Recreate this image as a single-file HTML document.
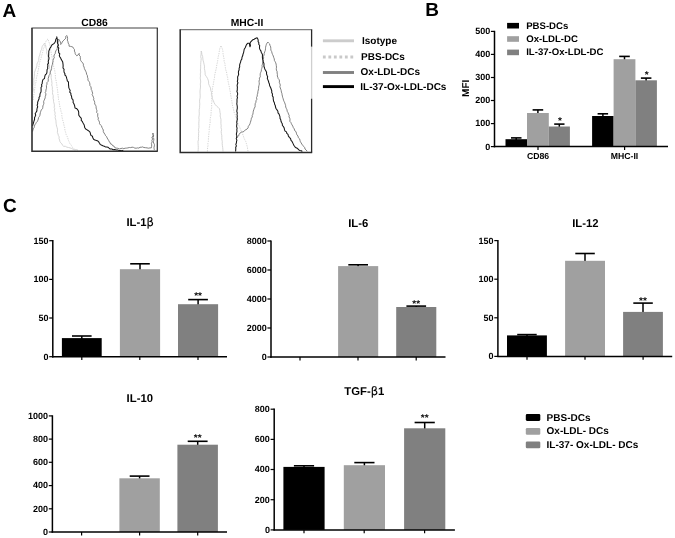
<!DOCTYPE html>
<html><head><meta charset="utf-8"><title>Figure</title>
<style>html,body{margin:0;padding:0;background:#fff}svg{display:block;will-change:transform}text{font-family:'Liberation Sans', sans-serif;fill:#000;text-rendering:geometricPrecision}</style></head><body>
<svg width="675" height="538" viewBox="0 0 675 538">
<rect width="675" height="538" fill="#fff"/>
<text x="2.4" y="17.0" font-size="19" font-weight="bold" text-anchor="start">A</text>
<text x="425.2" y="16.0" font-size="19" font-weight="bold" text-anchor="start">B</text>
<text x="3.0" y="212.2" font-size="19" font-weight="bold" text-anchor="start">C</text>
<text x="94.5" y="25.6" font-size="10.3" font-weight="bold" text-anchor="middle">CD86</text>
<polyline points="32.6,92.0 33.1,90.7 33.3,89.3 33.0,87.9 32.8,86.4 32.9,85.0 33.8,83.6 33.8,82.2 33.9,80.8 33.7,79.3 34.1,77.9 34.3,76.5 34.4,75.0 34.5,73.6 34.5,72.2 35.1,70.9 35.4,69.5 36.1,68.2 36.6,66.9 36.9,65.6 36.9,64.1 37.5,62.9 38.1,61.7 38.7,60.5 38.8,59.1 38.9,57.6 39.2,56.3 39.9,55.0 40.0,53.5 40.5,52.2 40.8,50.7 41.7,49.3 41.9,47.7 42.3,46.2 43.4,44.8 44.4,43.3 45.1,44.6 45.8,45.9 45.9,47.4 46.3,48.8 46.8,50.1 46.7,51.6 46.6,53.1 47.2,54.4 47.6,55.8 48.2,57.3 47.9,59.0 48.2,60.6 48.6,62.2 48.7,63.8 49.4,65.3 49.4,66.9 49.7,68.4 50.3,69.9 50.0,71.5 50.3,73.0 51.2,74.4 51.2,76.0 51.1,77.5 51.3,79.0 51.7,80.5 51.8,82.0 52.0,83.5 51.7,85.0 52.2,86.5 52.4,88.0 52.3,89.5 52.8,91.0 52.5,92.5 52.6,94.0 53.2,95.5 53.2,97.0 53.1,98.5 53.6,100.0 53.5,101.5 53.9,102.9 54.3,104.4 54.4,105.9 54.2,107.4 54.8,108.8 54.3,110.4 54.8,111.8 55.2,113.2 54.8,114.7 55.5,116.1 55.1,117.6 55.5,119.0 55.9,120.4 56.0,121.8 56.1,123.3 56.3,124.7 56.6,126.1 57.1,127.7 57.5,129.2 57.5,130.9 57.4,132.5 58.0,134.0 58.4,135.6 59.2,136.9 59.0,138.6 59.6,140.0 59.9,141.5 60.7,142.8 61.9,143.8 62.5,145.3 63.7,146.3 65.4,146.3 66.9,147.2 68.5,147.5 70.1,147.9 71.7,148.5 73.2,149.3 74.7,149.9 76.5,149.6 78.0,150.2" fill="none" stroke="#cccccc" stroke-width="0.8" stroke-linejoin="round"/>
<polyline points="33.2,100.0 33.3,98.0 33.7,96.0 33.9,94.0 34.3,92.0 34.5,90.0 34.9,88.0 34.9,86.0 35.2,84.0 36.1,82.0 36.1,80.0 36.4,78.0 36.9,76.0 37.6,74.0 37.7,71.9 38.4,69.9 38.6,67.8 39.1,65.8 39.3,63.7 39.9,61.7 40.5,59.9 41.1,58.2 41.4,56.4 42.0,54.6 42.5,52.8 42.9,51.0 43.3,49.0 44.2,47.2 44.8,45.3 45.2,43.4 45.9,41.5 46.7,40.0 48.0,38.9 48.5,41.0 49.3,43.0 50.0,45.0 50.2,47.2 50.5,49.4 51.0,51.5 51.2,53.7 51.8,55.8 52.2,57.7 52.3,59.6 52.9,61.5 53.0,63.4 53.6,65.3 53.7,67.5 54.6,69.5 54.9,71.7 55.2,73.8 55.4,76.0 55.4,78.0 56.0,80.0 56.2,82.0 56.7,84.0 56.9,86.0 57.2,88.0 57.5,89.9 57.8,91.8 57.9,93.7 58.1,95.6 58.4,97.5 58.5,99.5 59.1,101.5 59.3,103.5 59.7,105.5 60.0,107.5 60.7,109.4 61.0,111.5 61.8,113.4 61.8,115.6 62.1,117.6 62.6,119.7 63.2,121.7 63.7,123.7 64.1,125.9 64.8,127.9 64.9,130.2 65.6,132.3 66.1,134.4 67.0,136.2 67.8,137.9 68.2,139.9 69.1,141.6 69.8,143.5 71.2,145.0 72.0,146.9 73.7,148.5 75.6,149.9" fill="none" stroke="#c9c9c9" stroke-width="0.8" stroke-dasharray="1.3 1.1" stroke-linejoin="round"/>
<polyline points="32.6,131.5 32.9,130.1 33.3,128.8 34.1,127.6 34.4,126.2 34.8,124.9 35.7,123.7 36.3,122.5 37.3,121.5 37.8,120.3 38.3,119.1 38.5,117.6 39.3,116.6 39.9,115.4 40.1,114.0 40.4,112.6 40.8,111.2 41.3,109.9 42.5,108.7 42.8,107.4 42.9,105.9 43.5,104.6 43.9,103.2 43.6,101.7 44.1,100.4 44.7,99.1 45.2,97.7 45.3,96.3 45.8,95.1 45.9,93.8 45.2,92.5 45.9,91.3 45.9,90.0 46.4,88.6 46.5,87.1 46.4,85.6 47.0,84.2 46.9,82.7 48.1,81.4 48.3,79.9 48.2,78.4 48.7,77.0 49.0,75.5 50.0,74.2 50.2,72.7 50.6,71.2 51.3,69.9 51.6,68.6 51.6,67.1 51.9,65.8 52.4,64.4 52.6,63.0 53.0,61.7 53.0,60.3 53.5,58.9 54.3,57.7 53.9,56.2 54.3,54.8 55.2,53.6 55.4,52.2 55.8,50.9 56.6,49.8 57.2,48.6 57.4,47.2 57.5,45.9 58.3,44.6 57.8,43.1 58.2,41.8 58.2,40.4 58.7,39.1 59.2,40.1 59.9,40.9 60.4,42.1 60.6,43.3 60.7,44.5 61.7,43.4 62.2,42.0 63.1,40.9 64.0,40.0 64.9,39.1 65.9,38.1 65.7,36.5 66.7,35.5 67.4,36.9 67.6,38.4 67.3,40.1 67.9,41.5 68.2,43.1 69.0,44.6 69.1,46.2 70.5,46.4 71.9,46.7 73.2,47.4 73.7,48.6 74.5,49.6 74.4,51.1 75.0,52.2 75.2,53.6 75.8,54.8 76.8,55.8 78.2,54.8 79.2,53.4 79.0,55.0 80.3,56.3 80.3,57.8 80.4,59.3 80.8,60.7 81.7,61.8 82.7,62.9 83.4,64.1 83.4,65.7 84.1,67.1 84.4,68.6 85.1,70.0 85.8,71.4 86.4,72.8 86.6,74.3 87.4,75.6 87.5,77.2 88.0,78.6 87.9,80.1 88.9,81.3 89.6,82.6 89.9,84.0 89.9,85.5 90.8,86.6 91.2,88.0 91.2,89.4 91.9,90.6 92.2,91.9 92.7,93.2 92.1,94.7 92.9,95.9 93.4,97.2 93.8,98.5 93.6,99.9 94.4,101.1 94.7,102.5 94.7,104.0 95.6,105.2 96.1,106.6 96.1,108.0 96.5,109.4 97.0,110.8 96.6,112.4 97.8,113.6 97.7,115.1 97.7,116.6 98.4,118.0 98.1,119.5 98.9,120.8 99.5,122.2 99.5,123.7 100.4,124.9 101.5,125.8 101.9,127.3 102.6,128.7 103.3,130.0 103.3,131.6 104.0,133.0 104.9,134.2 105.5,135.6 106.6,136.6 107.1,137.9 107.8,139.1 108.6,140.3 109.0,141.6 110.1,142.4 110.5,143.9 112.0,144.4 112.6,145.7 114.0,146.1 114.8,147.7 116.2,148.1 117.8,148.3 119.4,148.9 121.0,148.5 122.4,148.2 123.8,148.6 125.2,148.2 126.6,148.1 127.9,147.9 129.3,147.5 130.7,147.6 132.1,147.2 133.5,147.4 134.8,148.1 136.2,148.2 137.6,147.9 138.9,148.1 140.0,147.2 141.2,147.3 142.4,146.9 143.9,147.5 145.5,147.7 147.1,147.9 148.5,148.2 149.9,147.9 151.3,147.9 151.6,146.4 151.7,144.9 151.4,143.4 152.2,141.9 151.9,140.4 152.6,139.0 151.9,137.4 153.0,136.0 153.2,134.5 152.9,133.0 152.9,134.5 153.7,135.9 153.0,137.5 153.9,138.9 153.7,140.4 153.3,141.8 153.7,143.1 154.4,144.4 154.4,145.8 154.0,147.2 154.1,148.5 154.3,149.9" fill="none" stroke="#6c6c6c" stroke-width="0.85" stroke-linejoin="round"/>
<polyline points="32.6,126.0 32.8,124.9 33.3,123.5 33.7,122.1 34.1,120.7 34.6,119.3 34.5,117.8 35.1,116.5 35.7,115.1 35.2,113.5 36.1,112.2 36.9,110.9 36.9,109.4 37.2,108.0 37.7,106.7 37.1,105.1 37.7,103.8 37.6,102.4 38.1,101.0 38.6,99.8 39.1,98.7 39.0,97.3 39.9,96.3 39.9,94.8 40.2,93.3 41.0,92.0 41.1,90.5 41.1,89.0 41.0,87.5 41.9,86.3 41.5,84.7 42.2,83.4 42.3,82.0 42.6,80.6 43.1,79.4 44.4,78.6 44.7,77.2 44.9,75.9 45.4,74.7 46.5,73.8 46.9,72.5 47.0,71.2 47.0,69.8 47.8,68.5 47.6,67.1 47.9,65.8 47.6,64.4 48.5,63.1 48.2,61.7 48.5,60.4 48.9,59.1 49.0,57.8 48.5,56.4 48.7,55.1 48.7,53.7 48.8,52.4 48.8,51.1 49.4,49.8 49.8,48.5 50.7,47.4 51.2,46.2 52.1,44.7 53.6,43.9 54.6,42.8 55.4,41.5 55.6,40.3 55.9,39.0 56.8,38.0 56.8,36.7 57.0,38.1 57.4,39.6 57.4,41.0 57.4,42.5 57.8,43.9 58.4,45.3 57.7,46.8 58.8,48.1 58.3,49.6 58.7,51.0 58.7,52.6 59.8,53.9 59.3,55.6 59.9,57.0 60.7,58.1 61.2,59.4 61.9,60.5 62.7,61.9 62.9,63.4 63.1,64.9 63.1,66.5 63.0,68.0 64.1,69.3 63.9,70.8 64.1,72.3 64.9,73.6 64.9,75.0 65.9,75.9 66.4,77.1 66.7,78.4 67.1,79.6 67.3,80.8 68.4,81.8 68.5,83.1 68.5,84.6 68.7,86.1 68.8,87.6 69.4,89.0 70.2,90.4 69.7,92.1 70.9,93.4 70.9,95.0 71.5,96.1 71.7,97.4 71.9,98.7 72.9,99.7 73.2,101.0 73.1,102.5 73.9,103.8 74.5,105.2 74.8,106.6 75.0,108.0 76.4,108.4 77.4,109.4 78.3,110.7 78.7,112.2 78.7,113.8 78.8,115.3 79.8,116.6 80.7,117.6 81.4,118.8 81.2,120.4 82.2,121.3 82.8,122.5 83.5,123.8 84.2,125.0 84.5,126.4 84.8,127.8 85.7,129.0 86.7,129.6 87.7,130.2 88.7,130.9 90.0,132.1 90.5,133.8 90.9,135.4 92.5,136.3 92.8,137.8 93.6,139.2 94.9,140.1 96.5,140.4 97.9,141.0 98.9,142.2 99.5,143.3 100.2,144.4 101.3,145.1 102.8,145.8 104.3,146.3 105.4,146.9 106.7,146.9 108.1,147.3 109.1,148.2 110.2,149.0 111.8,148.9 113.1,149.8 114.7,149.5 116.2,149.9 117.6,149.9 119.0,150.6 120.4,150.5 121.9,150.7 123.3,150.3" fill="none" stroke="#161616" stroke-width="1.05" stroke-linejoin="round"/>
<line x1="31.4" y1="28.0" x2="157.9" y2="28.0" stroke="#808080" stroke-width="1.3"/>
<polyline points="32.0,28.0 32.0,151.2 157.8,151.2" fill="none" stroke="#303030" stroke-width="1.6"/>
<line x1="157.3" y1="28.0" x2="157.3" y2="151.2" stroke="#303030" stroke-width="1.2"/>
<text x="247.0" y="25.8" font-size="10.3" font-weight="bold" text-anchor="middle">MHC-II</text>
<polyline points="198.0,151.5 198.2,149.5 198.3,147.5 198.2,145.5 198.1,143.6 198.0,141.6 198.5,139.6 198.4,137.6 198.6,135.6 198.5,133.6 198.8,131.7 198.5,129.7 198.9,127.7 198.9,125.7 198.8,123.7 198.9,121.7 199.1,119.7 198.8,117.7 199.1,115.8 199.3,113.8 199.2,111.8 199.2,109.8 199.6,107.8 199.6,105.9 199.8,103.9 199.6,101.9 199.6,99.9 200.1,97.9 200.2,95.9 200.1,93.9 200.0,92.0 200.1,90.0 200.4,88.0 200.5,86.0 200.3,84.0 200.7,82.0 200.5,80.0 200.2,78.0 200.5,76.0 200.3,74.0 200.7,72.0 200.4,70.0 200.7,68.1 200.6,66.2 200.7,64.3 200.8,62.4 201.0,60.5 201.2,58.6 200.7,56.7 201.0,54.8 201.2,52.9 201.2,51.0 201.7,52.7 201.9,54.6 202.6,56.3 202.8,58.1 203.0,60.1 203.6,62.1 204.0,64.1 204.5,66.2 204.4,68.4 204.8,70.5 205.1,72.6 205.2,74.8 206.4,76.6 207.5,78.4 208.2,80.1 208.6,81.9 208.6,83.8 209.3,85.5 210.5,88.0 210.7,90.2 211.5,92.2 211.4,94.4 212.2,96.5 212.3,98.7 213.4,100.7 214.1,102.8 215.3,104.7 216.6,106.1 218.2,107.4 219.5,108.8 219.8,110.6 220.0,112.4 220.4,114.2 220.1,116.0 220.6,117.8 221.0,119.8 220.9,121.8 220.9,123.7 221.2,125.7 221.0,127.7 221.6,129.7 221.2,131.7 221.4,133.6 221.8,135.6 221.8,137.6 221.9,139.6 222.3,141.6 222.2,143.6 222.4,145.6 222.7,147.5 222.9,149.5 223.0,151.5" fill="none" stroke="#cccccc" stroke-width="0.8" stroke-linejoin="round"/>
<polyline points="207.4,151.5 207.5,149.5 207.6,147.5 208.0,145.5 207.9,143.5 208.3,141.6 208.4,139.6 208.4,137.6 208.8,135.6 208.8,133.6 209.2,131.6 209.2,129.6 209.3,127.7 209.7,125.7 209.9,123.7 210.3,121.7 210.1,119.7 210.4,117.8 210.8,115.8 211.1,113.8 211.1,111.8 211.2,109.9 211.7,107.9 211.7,105.9 211.5,103.9 212.0,101.9 211.8,99.9 211.8,97.9 211.9,96.0 212.1,94.0 212.4,92.0 212.3,90.0 212.5,87.9 213.1,85.8 213.4,83.8 213.7,81.7 214.1,79.6 214.5,77.7 214.6,75.7 215.0,73.8 215.4,71.9 215.9,70.0 216.3,68.1 216.6,66.2 216.9,64.3 217.4,62.4 217.7,60.5 218.0,58.4 218.3,56.2 218.9,54.1 219.2,52.0 219.5,49.8 220.1,47.7 221.0,45.6 221.8,47.7 222.7,49.8 222.9,51.6 223.0,53.4 223.3,55.2 223.6,57.0 224.1,59.1 224.1,61.3 224.9,63.4 225.1,65.6 225.4,67.7 225.7,69.8 226.5,71.8 226.8,73.9 227.2,76.0 227.8,77.9 227.8,79.8 228.2,81.7 228.6,83.6 229.0,85.5 229.6,88.0 229.8,90.1 230.4,92.1 230.5,94.1 230.9,96.2 231.3,98.2 231.7,100.3 232.0,102.3 232.3,104.5 232.7,106.6 233.4,108.7 233.8,110.9 234.3,113.0 235.3,114.9 235.8,117.0 236.7,119.0 237.2,120.8 237.7,122.6 238.3,124.4 239.1,126.1 239.9,127.8 240.7,129.6 241.3,131.5 242.1,133.2 243.1,135.1 243.7,137.2 244.5,139.2 245.8,141.6 246.4,143.5 246.9,145.5 247.5,147.5 247.6,149.6 248.2,151.5" fill="none" stroke="#c9c9c9" stroke-width="0.8" stroke-dasharray="1.3 1.1" stroke-linejoin="round"/>
<polyline points="237.0,138.0 237.5,136.7 238.7,135.8 239.1,134.4 240.1,133.0 241.5,132.0 242.7,131.9 243.9,131.5 244.7,130.4 245.8,129.7 247.0,129.1 248.1,127.9 248.3,126.3 249.3,125.1 250.0,123.7 250.4,122.3 250.8,121.0 251.2,119.6 251.4,118.2 252.3,117.0 252.2,115.5 252.9,114.2 253.1,112.7 253.3,111.1 253.8,109.7 254.3,108.2 255.1,106.8 255.1,105.3 255.2,103.7 255.9,102.3 256.0,100.7 256.9,99.3 256.5,97.6 257.2,96.2 257.3,94.6 257.8,93.1 257.9,91.5 258.3,90.0 258.6,88.5 258.6,87.0 258.9,85.6 259.3,84.1 259.2,82.6 259.0,81.1 259.5,79.6 259.4,78.1 260.3,76.8 260.2,75.3 260.2,73.8 260.7,72.4 261.3,71.1 261.4,69.6 261.8,68.3 262.2,66.9 262.0,65.4 262.5,64.1 262.6,62.6 263.3,61.1 262.9,59.5 263.7,58.0 263.4,56.4 264.1,55.0 264.2,53.4 264.7,51.9 265.3,50.4 265.5,48.8 265.6,47.2 266.0,45.6 266.4,44.3 267.0,43.1 267.8,42.1 268.7,43.0 269.6,43.9 270.0,45.5 270.7,46.9 270.8,48.6 270.9,50.2 271.7,51.6 272.0,53.1 272.6,54.6 273.3,56.0 273.7,57.5 274.3,58.9 274.4,60.5 275.1,61.6 275.7,62.8 276.1,64.1 276.3,65.6 276.5,67.1 276.3,68.6 276.4,70.1 277.1,71.5 277.1,73.0 277.4,74.5 277.3,76.0 277.8,77.3 278.2,78.6 279.1,79.6 279.5,81.0 279.3,82.4 279.9,83.8 280.3,85.1 279.9,86.6 280.3,88.0 280.8,89.3 281.2,90.6 281.4,92.1 281.9,93.4 282.1,94.8 282.4,96.1 282.7,97.5 283.2,98.8 283.5,100.2 284.1,101.5 284.7,102.8 285.2,104.2 285.6,105.5 285.7,107.0 286.3,108.4 287.0,109.8 287.2,111.3 288.0,112.6 288.5,114.1 289.2,115.4 289.0,116.9 289.8,118.3 290.0,119.8 289.8,121.3 290.8,122.3 291.4,123.7 292.0,124.9 292.8,126.1 293.3,127.6 294.3,128.9 294.6,130.5 296.0,131.6 296.4,133.2 296.9,134.8 298.0,136.0 298.3,137.7 299.6,138.8 300.0,140.4 300.4,141.8 301.2,142.9 301.8,144.1 302.7,145.2 303.5,146.3 304.6,147.4 305.0,149.0 306.2,150.0 307.1,151.3" fill="none" stroke="#6c6c6c" stroke-width="0.85" stroke-linejoin="round"/>
<polyline points="235.6,151.5 235.7,150.1 235.8,148.7 235.7,147.2 236.4,145.9 235.8,144.4 236.4,143.0 236.5,141.6 236.9,140.1 236.2,138.6 236.7,137.1 236.8,135.6 236.3,134.1 236.7,132.6 237.0,131.2 236.8,129.7 237.1,128.2 236.6,126.7 236.7,125.2 237.0,123.7 236.7,122.2 237.0,120.6 237.4,119.1 237.1,117.6 237.3,116.0 237.0,114.5 237.3,113.0 236.8,111.4 237.0,109.9 237.3,108.4 237.3,106.9 237.1,105.3 236.8,103.8 237.0,102.3 237.0,100.7 237.0,99.2 237.5,97.7 237.0,96.1 237.6,94.6 237.6,93.1 236.9,91.5 237.3,90.0 237.3,88.5 237.4,87.1 237.1,85.6 237.4,84.2 237.9,82.8 237.3,81.3 237.7,79.9 237.7,78.4 237.6,77.0 238.2,75.6 238.7,74.3 238.4,72.8 238.5,71.3 239.1,70.0 239.1,68.4 239.7,66.8 239.6,65.2 240.0,63.6 240.6,62.1 240.9,60.5 241.8,59.1 242.0,57.3 242.7,55.8 243.0,54.2 243.6,52.6 243.9,51.0 244.2,49.3 245.2,47.8 245.8,46.2 246.5,44.6 247.6,43.3 249.4,43.3 249.6,45.1 250.0,46.8 250.5,45.3 250.0,43.6 250.5,42.1 251.7,40.9 252.9,39.7 254.1,39.2 255.3,38.5 257.1,37.7 257.8,38.9 258.2,40.1 258.1,41.6 258.9,42.7 258.7,44.2 259.7,45.5 259.5,47.0 259.5,48.4 260.1,49.8 260.9,50.9 261.2,52.2 261.9,53.4 262.5,54.8 262.4,56.2 262.4,57.7 262.7,59.1 263.0,60.5 263.1,61.9 263.9,63.2 264.0,64.7 263.9,66.2 264.4,67.5 264.8,68.9 265.4,70.0 266.1,71.2 266.6,72.4 266.5,73.9 267.0,75.3 267.7,76.7 267.3,78.2 267.8,79.6 268.4,81.0 268.8,82.5 269.4,84.0 269.6,85.5 270.2,86.7 270.8,88.0 271.3,89.5 271.8,91.0 271.7,92.6 272.5,94.0 272.3,95.7 273.2,97.1 273.2,98.7 273.4,100.1 273.7,101.5 274.4,102.8 274.6,104.3 275.3,105.6 275.5,107.0 276.0,108.5 277.0,109.9 277.9,111.2 278.0,112.9 279.1,114.2 279.6,115.6 280.0,116.9 280.0,118.4 280.8,119.7 281.0,121.2 281.5,122.5 282.3,123.8 282.4,125.5 283.5,126.7 284.2,128.1 284.5,129.7 285.1,131.1 286.5,131.9 286.8,133.4 288.0,134.4 288.4,136.1 289.4,137.4 290.6,138.7 291.0,140.4 292.0,141.4 292.6,142.6 293.2,143.9 293.8,145.2 294.6,146.3 295.4,147.5 296.8,148.0 297.9,148.8 298.8,149.9 299.9,150.5 301.3,150.7 302.3,151.5" fill="none" stroke="#161616" stroke-width="1.05" stroke-linejoin="round"/>
<line x1="179.6" y1="29.6" x2="312.2" y2="29.6" stroke="#808080" stroke-width="1.3"/>
<polyline points="180.2,29.6 180.2,152.4 312.2,152.4" fill="none" stroke="#2a2a2a" stroke-width="1.5"/>
<line x1="311.6" y1="29.6" x2="311.6" y2="46.8" stroke="#2a2a2a" stroke-width="1.3"/>
<line x1="311.6" y1="46.8" x2="311.6" y2="98.7" stroke="#cfcfcf" stroke-width="1.3"/>
<line x1="311.6" y1="98.7" x2="311.6" y2="152.4" stroke="#2a2a2a" stroke-width="1.3"/>
<line x1="322.9" y1="40.8" x2="354" y2="40.8" stroke="#cccccc" stroke-width="2.9"/>
<text x="362.0" y="44.1" font-size="10" font-weight="bold" text-anchor="start">Isotype</text>
<line x1="322.9" y1="57" x2="354" y2="57" stroke="#c9c9c9" stroke-width="2.9" stroke-dasharray="2.8 2.7"/>
<text x="361.0" y="60.3" font-size="10" font-weight="bold" text-anchor="start">PBS-DCs</text>
<line x1="322.9" y1="72.5" x2="354" y2="72.5" stroke="#808080" stroke-width="2.9"/>
<text x="360.6" y="74.6" font-size="10" font-weight="bold" text-anchor="start">Ox-LDL-DCs</text>
<line x1="322.9" y1="86.6" x2="354" y2="86.6" stroke="#000" stroke-width="2.9"/>
<text x="360.3" y="90.2" font-size="10" font-weight="bold" text-anchor="start">IL-37-Ox-LDL-DCs</text>
<line x1="516.2" y1="137.9" x2="516.2" y2="140.2" stroke="#000" stroke-width="1.5"/>
<line x1="511.0" y1="137.9" x2="521.5" y2="137.9" stroke="#000" stroke-width="1.6"/>
<rect x="505.5" y="139.2" width="21.5" height="7.4" fill="#000"/>
<line x1="537.9" y1="109.9" x2="537.9" y2="114.0" stroke="#000" stroke-width="1.5"/>
<line x1="532.6" y1="109.9" x2="543.2" y2="109.9" stroke="#000" stroke-width="1.6"/>
<rect x="527.0" y="113.0" width="21.8" height="33.6" fill="#a0a0a0"/>
<line x1="559.3" y1="124.1" x2="559.3" y2="127.5" stroke="#000" stroke-width="1.5"/>
<line x1="554.2" y1="124.1" x2="564.5" y2="124.1" stroke="#000" stroke-width="1.6"/>
<rect x="548.8" y="126.5" width="21.1" height="20.1" fill="#808080"/>
<text x="560.0" y="124.0" font-size="10" font-weight="bold" text-anchor="middle">*</text>
<line x1="602.9" y1="113.8" x2="602.9" y2="117.0" stroke="#000" stroke-width="1.5"/>
<line x1="597.6" y1="113.8" x2="608.1" y2="113.8" stroke="#000" stroke-width="1.6"/>
<rect x="592.1" y="116.0" width="21.5" height="30.5" fill="#000"/>
<line x1="624.5" y1="56.4" x2="624.5" y2="60.2" stroke="#000" stroke-width="1.5"/>
<line x1="619.2" y1="56.4" x2="629.8" y2="56.4" stroke="#000" stroke-width="1.6"/>
<rect x="613.6" y="59.2" width="21.8" height="87.4" fill="#a0a0a0"/>
<line x1="646.1" y1="78.1" x2="646.1" y2="81.3" stroke="#000" stroke-width="1.5"/>
<line x1="640.9" y1="78.1" x2="651.4" y2="78.1" stroke="#000" stroke-width="1.6"/>
<rect x="635.4" y="80.3" width="21.5" height="66.3" fill="#808080"/>
<text x="646.7" y="78.0" font-size="10" font-weight="bold" text-anchor="middle">*</text>
<line x1="494.5" y1="30.8" x2="494.5" y2="147.3" stroke="#000" stroke-width="1.5"/>
<line x1="493.8" y1="146.6" x2="668.0" y2="146.6" stroke="#000" stroke-width="1.5"/>
<line x1="490.9" y1="31.4" x2="494.5" y2="31.4" stroke="#000" stroke-width="1.2"/>
<text x="490.2" y="34.0" font-size="9" font-weight="bold" text-anchor="end">500</text>
<line x1="490.9" y1="54.4" x2="494.5" y2="54.4" stroke="#000" stroke-width="1.2"/>
<text x="490.2" y="57.0" font-size="9" font-weight="bold" text-anchor="end">400</text>
<line x1="490.9" y1="77.5" x2="494.5" y2="77.5" stroke="#000" stroke-width="1.2"/>
<text x="490.2" y="80.0" font-size="9" font-weight="bold" text-anchor="end">300</text>
<line x1="490.9" y1="100.5" x2="494.5" y2="100.5" stroke="#000" stroke-width="1.2"/>
<text x="490.2" y="103.0" font-size="9" font-weight="bold" text-anchor="end">200</text>
<line x1="490.9" y1="123.6" x2="494.5" y2="123.6" stroke="#000" stroke-width="1.2"/>
<text x="490.2" y="126.0" font-size="9" font-weight="bold" text-anchor="end">100</text>
<line x1="490.9" y1="146.6" x2="494.5" y2="146.6" stroke="#000" stroke-width="1.2"/>
<text x="490.2" y="150.0" font-size="9" font-weight="bold" text-anchor="end">0</text>
<line x1="538.0" y1="146.6" x2="538.0" y2="150.0" stroke="#000" stroke-width="1.2"/>
<line x1="624.6" y1="146.6" x2="624.6" y2="150.0" stroke="#000" stroke-width="1.2"/>
<text x="538.0" y="158.8" font-size="8.7" font-weight="bold" text-anchor="middle">CD86</text>
<text x="624.5" y="158.8" font-size="8.7" font-weight="bold" text-anchor="middle">MHC-II</text>
<text transform="translate(469,88.3) rotate(-90)" font-size="10" font-weight="bold" text-anchor="middle">MFI</text>
<rect x="507.1" y="22.9" width="11.9" height="5.6" fill="#000"/>
<text x="526.2" y="28.7" font-size="9.6" font-weight="bold" text-anchor="start">PBS-DCs</text>
<rect x="507.1" y="36.2" width="11.9" height="5.6" fill="#a0a0a0"/>
<text x="526.2" y="42.0" font-size="9.6" font-weight="bold" text-anchor="start">Ox-LDL-DC</text>
<rect x="507.1" y="49.6" width="11.9" height="5.6" fill="#808080"/>
<text x="526.2" y="55.4" font-size="9.6" font-weight="bold" text-anchor="start">IL-37-Ox-LDL-DC</text>
<line x1="81.8" y1="336.0" x2="81.8" y2="339.1" stroke="#000" stroke-width="1.5"/>
<line x1="72.0" y1="336.0" x2="91.6" y2="336.0" stroke="#000" stroke-width="1.6"/>
<rect x="61.9" y="338.1" width="39.8" height="18.6" fill="#000"/>
<line x1="140.0" y1="263.8" x2="140.0" y2="270.2" stroke="#000" stroke-width="1.5"/>
<line x1="130.2" y1="263.8" x2="149.8" y2="263.8" stroke="#000" stroke-width="1.6"/>
<rect x="119.9" y="269.2" width="40.2" height="87.5" fill="#a0a0a0"/>
<line x1="198.1" y1="299.6" x2="198.1" y2="305.2" stroke="#000" stroke-width="1.5"/>
<line x1="188.2" y1="299.6" x2="207.9" y2="299.6" stroke="#000" stroke-width="1.6"/>
<rect x="178.0" y="304.2" width="40.1" height="52.5" fill="#808080"/>
<text x="198.1" y="299.0" font-size="10" font-weight="bold" text-anchor="middle">**</text>
<line x1="52.8" y1="240.1" x2="52.8" y2="357.4" stroke="#000" stroke-width="1.5"/>
<line x1="52.1" y1="356.7" x2="227.0" y2="356.7" stroke="#000" stroke-width="1.5"/>
<line x1="49.2" y1="240.7" x2="52.8" y2="240.7" stroke="#000" stroke-width="1.2"/>
<text x="48.5" y="244.0" font-size="9.0" font-weight="bold" text-anchor="end">150</text>
<line x1="49.2" y1="279.4" x2="52.8" y2="279.4" stroke="#000" stroke-width="1.2"/>
<text x="48.5" y="282.0" font-size="9.0" font-weight="bold" text-anchor="end">100</text>
<line x1="49.2" y1="318.0" x2="52.8" y2="318.0" stroke="#000" stroke-width="1.2"/>
<text x="48.5" y="321.0" font-size="9.0" font-weight="bold" text-anchor="end">50</text>
<line x1="49.2" y1="356.7" x2="52.8" y2="356.7" stroke="#000" stroke-width="1.2"/>
<text x="48.5" y="360.0" font-size="9.0" font-weight="bold" text-anchor="end">0</text>
<line x1="81.8" y1="356.7" x2="81.8" y2="360.1" stroke="#000" stroke-width="1.2"/>
<line x1="139.8" y1="356.7" x2="139.8" y2="360.1" stroke="#000" stroke-width="1.2"/>
<line x1="198.0" y1="356.7" x2="198.0" y2="360.1" stroke="#000" stroke-width="1.2"/>
<text x="126.4" y="226.4" font-size="11.3" font-weight="bold">IL-1<tspan font-family="'DejaVu Sans',sans-serif" font-weight="normal" font-size="11.6" stroke="#000" stroke-width="0.12">β</tspan></text>
<line x1="358.1" y1="264.8" x2="358.1" y2="267.1" stroke="#000" stroke-width="1.5"/>
<line x1="348.3" y1="264.8" x2="368.0" y2="264.8" stroke="#000" stroke-width="1.6"/>
<rect x="338.1" y="266.1" width="40.1" height="90.9" fill="#a0a0a0"/>
<line x1="416.2" y1="306.1" x2="416.2" y2="308.0" stroke="#000" stroke-width="1.5"/>
<line x1="406.4" y1="306.1" x2="426.1" y2="306.1" stroke="#000" stroke-width="1.6"/>
<rect x="396.2" y="307.0" width="40.1" height="50.0" fill="#808080"/>
<text x="416.2" y="307.0" font-size="10" font-weight="bold" text-anchor="middle">**</text>
<line x1="271.0" y1="240.4" x2="271.0" y2="357.7" stroke="#000" stroke-width="1.5"/>
<line x1="270.3" y1="357.0" x2="445.5" y2="357.0" stroke="#000" stroke-width="1.5"/>
<line x1="267.4" y1="241.0" x2="271.0" y2="241.0" stroke="#000" stroke-width="1.2"/>
<text x="266.7" y="244.0" font-size="9.0" font-weight="bold" text-anchor="end">8000</text>
<line x1="267.4" y1="270.0" x2="271.0" y2="270.0" stroke="#000" stroke-width="1.2"/>
<text x="266.7" y="273.0" font-size="9.0" font-weight="bold" text-anchor="end">6000</text>
<line x1="267.4" y1="299.0" x2="271.0" y2="299.0" stroke="#000" stroke-width="1.2"/>
<text x="266.7" y="302.0" font-size="9.0" font-weight="bold" text-anchor="end">4000</text>
<line x1="267.4" y1="328.0" x2="271.0" y2="328.0" stroke="#000" stroke-width="1.2"/>
<text x="266.7" y="331.0" font-size="9.0" font-weight="bold" text-anchor="end">2000</text>
<line x1="267.4" y1="357.0" x2="271.0" y2="357.0" stroke="#000" stroke-width="1.2"/>
<text x="266.7" y="360.0" font-size="9.0" font-weight="bold" text-anchor="end">0</text>
<line x1="300.0" y1="357.0" x2="300.0" y2="360.4" stroke="#000" stroke-width="1.2"/>
<line x1="358.0" y1="357.0" x2="358.0" y2="360.4" stroke="#000" stroke-width="1.2"/>
<line x1="416.2" y1="357.0" x2="416.2" y2="360.4" stroke="#000" stroke-width="1.2"/>
<text x="358.2" y="227.3" font-size="11.3" font-weight="bold" text-anchor="middle">IL-6</text>
<line x1="527.0" y1="334.6" x2="527.0" y2="336.4" stroke="#000" stroke-width="1.5"/>
<line x1="517.2" y1="334.6" x2="536.7" y2="334.6" stroke="#000" stroke-width="1.6"/>
<rect x="507.0" y="335.4" width="39.9" height="21.0" fill="#000"/>
<line x1="585.0" y1="253.5" x2="585.0" y2="261.8" stroke="#000" stroke-width="1.5"/>
<line x1="575.3" y1="253.5" x2="594.8" y2="253.5" stroke="#000" stroke-width="1.6"/>
<rect x="565.1" y="260.8" width="39.9" height="95.6" fill="#a0a0a0"/>
<line x1="643.0" y1="303.1" x2="643.0" y2="312.9" stroke="#000" stroke-width="1.5"/>
<line x1="633.3" y1="303.1" x2="652.8" y2="303.1" stroke="#000" stroke-width="1.6"/>
<rect x="623.1" y="311.9" width="39.8" height="44.5" fill="#808080"/>
<text x="643.0" y="304.0" font-size="10" font-weight="bold" text-anchor="middle">**</text>
<line x1="497.9" y1="240.0" x2="497.9" y2="357.1" stroke="#000" stroke-width="1.5"/>
<line x1="497.2" y1="356.4" x2="672.2" y2="356.4" stroke="#000" stroke-width="1.5"/>
<line x1="494.3" y1="240.6" x2="497.9" y2="240.6" stroke="#000" stroke-width="1.2"/>
<text x="493.6" y="244.0" font-size="9.0" font-weight="bold" text-anchor="end">150</text>
<line x1="494.3" y1="279.2" x2="497.9" y2="279.2" stroke="#000" stroke-width="1.2"/>
<text x="493.6" y="282.0" font-size="9.0" font-weight="bold" text-anchor="end">100</text>
<line x1="494.3" y1="317.8" x2="497.9" y2="317.8" stroke="#000" stroke-width="1.2"/>
<text x="493.6" y="321.0" font-size="9.0" font-weight="bold" text-anchor="end">50</text>
<line x1="494.3" y1="356.4" x2="497.9" y2="356.4" stroke="#000" stroke-width="1.2"/>
<text x="493.6" y="359.0" font-size="9.0" font-weight="bold" text-anchor="end">0</text>
<line x1="527.0" y1="356.4" x2="527.0" y2="359.8" stroke="#000" stroke-width="1.2"/>
<line x1="585.0" y1="356.4" x2="585.0" y2="359.8" stroke="#000" stroke-width="1.2"/>
<line x1="643.1" y1="356.4" x2="643.1" y2="359.8" stroke="#000" stroke-width="1.2"/>
<text x="585.4" y="227.0" font-size="11.3" font-weight="bold" text-anchor="middle">IL-12</text>
<line x1="139.6" y1="476.1" x2="139.6" y2="479.3" stroke="#000" stroke-width="1.5"/>
<line x1="129.7" y1="476.1" x2="149.5" y2="476.1" stroke="#000" stroke-width="1.6"/>
<rect x="119.4" y="478.3" width="40.4" height="53.7" fill="#a0a0a0"/>
<line x1="197.7" y1="441.3" x2="197.7" y2="445.7" stroke="#000" stroke-width="1.5"/>
<line x1="187.7" y1="441.3" x2="207.6" y2="441.3" stroke="#000" stroke-width="1.6"/>
<rect x="177.4" y="444.7" width="40.5" height="87.3" fill="#808080"/>
<text x="197.7" y="441.0" font-size="10" font-weight="bold" text-anchor="middle">**</text>
<line x1="52.4" y1="415.3" x2="52.4" y2="532.7" stroke="#000" stroke-width="1.5"/>
<line x1="51.6" y1="532.0" x2="227.0" y2="532.0" stroke="#000" stroke-width="1.5"/>
<line x1="48.8" y1="415.9" x2="52.4" y2="415.9" stroke="#000" stroke-width="1.2"/>
<text x="48.1" y="419.0" font-size="9.0" font-weight="bold" text-anchor="end">1000</text>
<line x1="48.8" y1="439.1" x2="52.4" y2="439.1" stroke="#000" stroke-width="1.2"/>
<text x="48.1" y="442.0" font-size="9.0" font-weight="bold" text-anchor="end">800</text>
<line x1="48.8" y1="462.3" x2="52.4" y2="462.3" stroke="#000" stroke-width="1.2"/>
<text x="48.1" y="465.0" font-size="9.0" font-weight="bold" text-anchor="end">600</text>
<line x1="48.8" y1="485.6" x2="52.4" y2="485.6" stroke="#000" stroke-width="1.2"/>
<text x="48.1" y="488.0" font-size="9.0" font-weight="bold" text-anchor="end">400</text>
<line x1="48.8" y1="508.8" x2="52.4" y2="508.8" stroke="#000" stroke-width="1.2"/>
<text x="48.1" y="512.0" font-size="9.0" font-weight="bold" text-anchor="end">200</text>
<line x1="48.8" y1="532.0" x2="52.4" y2="532.0" stroke="#000" stroke-width="1.2"/>
<text x="48.1" y="535.0" font-size="9.0" font-weight="bold" text-anchor="end">0</text>
<line x1="81.6" y1="532.0" x2="81.6" y2="535.4" stroke="#000" stroke-width="1.2"/>
<line x1="139.6" y1="532.0" x2="139.6" y2="535.4" stroke="#000" stroke-width="1.2"/>
<line x1="197.7" y1="532.0" x2="197.7" y2="535.4" stroke="#000" stroke-width="1.2"/>
<text x="139.8" y="402.0" font-size="11.3" font-weight="bold" text-anchor="middle">IL-10</text>
<line x1="304.0" y1="465.8" x2="304.0" y2="467.9" stroke="#000" stroke-width="1.5"/>
<line x1="293.9" y1="465.8" x2="314.1" y2="465.8" stroke="#000" stroke-width="1.6"/>
<rect x="283.4" y="466.9" width="41.2" height="63.0" fill="#000"/>
<line x1="364.4" y1="462.6" x2="364.4" y2="466.2" stroke="#000" stroke-width="1.5"/>
<line x1="354.3" y1="462.6" x2="374.5" y2="462.6" stroke="#000" stroke-width="1.6"/>
<rect x="343.8" y="465.2" width="41.2" height="64.7" fill="#a0a0a0"/>
<line x1="424.7" y1="422.5" x2="424.7" y2="429.3" stroke="#000" stroke-width="1.5"/>
<line x1="414.6" y1="422.5" x2="434.8" y2="422.5" stroke="#000" stroke-width="1.6"/>
<rect x="404.1" y="428.3" width="41.2" height="101.6" fill="#808080"/>
<text x="424.7" y="421.0" font-size="10" font-weight="bold" text-anchor="middle">**</text>
<line x1="274.2" y1="408.6" x2="274.2" y2="530.6" stroke="#000" stroke-width="1.5"/>
<line x1="273.5" y1="529.9" x2="454.9" y2="529.9" stroke="#000" stroke-width="1.5"/>
<line x1="270.6" y1="409.2" x2="274.2" y2="409.2" stroke="#000" stroke-width="1.2"/>
<text x="269.9" y="412.0" font-size="9.0" font-weight="bold" text-anchor="end">800</text>
<line x1="270.6" y1="439.4" x2="274.2" y2="439.4" stroke="#000" stroke-width="1.2"/>
<text x="269.9" y="442.0" font-size="9.0" font-weight="bold" text-anchor="end">600</text>
<line x1="270.6" y1="469.5" x2="274.2" y2="469.5" stroke="#000" stroke-width="1.2"/>
<text x="269.9" y="472.0" font-size="9.0" font-weight="bold" text-anchor="end">400</text>
<line x1="270.6" y1="499.7" x2="274.2" y2="499.7" stroke="#000" stroke-width="1.2"/>
<text x="269.9" y="503.0" font-size="9.0" font-weight="bold" text-anchor="end">200</text>
<line x1="270.6" y1="529.9" x2="274.2" y2="529.9" stroke="#000" stroke-width="1.2"/>
<text x="269.9" y="533.0" font-size="9.0" font-weight="bold" text-anchor="end">0</text>
<line x1="304.0" y1="529.9" x2="304.0" y2="533.3" stroke="#000" stroke-width="1.2"/>
<line x1="364.2" y1="529.9" x2="364.2" y2="533.3" stroke="#000" stroke-width="1.2"/>
<line x1="424.6" y1="529.9" x2="424.6" y2="533.3" stroke="#000" stroke-width="1.2"/>
<text x="344.3" y="394.6" font-size="11.3" font-weight="bold">TGF-<tspan font-family="'DejaVu Sans',sans-serif" font-weight="normal" font-size="11.6" stroke="#000" stroke-width="0.12">β</tspan>1</text>
<rect x="525.8" y="414.1" width="14.5" height="6.8" rx="1.3" fill="#000"/>
<text x="546.6" y="420.8" font-size="10" font-weight="bold" text-anchor="start">PBS-DCs</text>
<rect x="525.8" y="428.0" width="14.5" height="6.8" rx="1.3" fill="#a0a0a0"/>
<text x="546.6" y="434.3" font-size="10" font-weight="bold" text-anchor="start">Ox-LDL- DCs</text>
<rect x="525.8" y="441.5" width="14.5" height="6.8" rx="1.3" fill="#808080"/>
<text x="546.6" y="448.2" font-size="10" font-weight="bold" text-anchor="start">IL-37- Ox-LDL- DCs</text>
</svg></body></html>
